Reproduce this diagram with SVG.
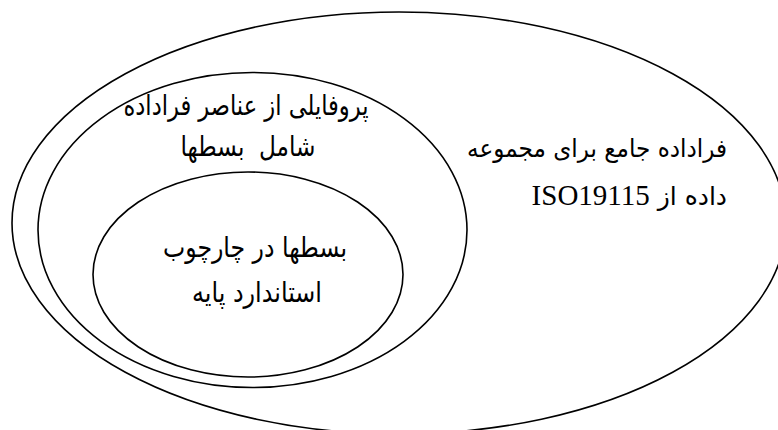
<svg xmlns="http://www.w3.org/2000/svg" width="778" height="430" viewBox="0 0 778 430">
<style>
.ring{fill:none;stroke:#000;stroke-width:1.6}
.t{font-family:"DejaVu Sans",sans-serif;font-size:28px;fill:#000;direction:rtl;unicode-bidi:embed;white-space:pre}
.s{font-size:25px}
.iso{font-family:"Liberation Serif","Times New Roman",serif;font-size:29px}
</style>
<rect width="778" height="430" fill="#fff"/>
<g id="outer">
<ellipse class="ring" cx="399" cy="223" rx="387" ry="211"/>
<text class="t s" x="727" y="157" text-anchor="start" textLength="260" lengthAdjust="spacingAndGlyphs">فراداده جامع برای مجموعه</text>
<text class="t s" x="727" y="205" text-anchor="start">داده از <tspan class="iso">ISO19115</tspan></text>
</g>
<g id="middle">
<ellipse class="ring" cx="252.5" cy="230" rx="214.5" ry="157.5"/>
<text class="t" x="246" y="115" text-anchor="middle" textLength="245" lengthAdjust="spacingAndGlyphs">پروفایلی از عناصر فراداده</text>
<text class="t" x="248" y="156" text-anchor="middle" textLength="135" lengthAdjust="spacingAndGlyphs">شامل  بسطها</text>
</g>
<g id="inner">
<ellipse class="ring" cx="248" cy="274.5" rx="155" ry="102.5"/>
<text class="t" x="255" y="257" text-anchor="middle" textLength="184" lengthAdjust="spacingAndGlyphs">بسطها در چارچوب</text>
<text class="t" x="257" y="302" text-anchor="middle" textLength="130" lengthAdjust="spacingAndGlyphs">استاندارد پایه</text>
</g>
<g id="connectors"/>
</svg>
